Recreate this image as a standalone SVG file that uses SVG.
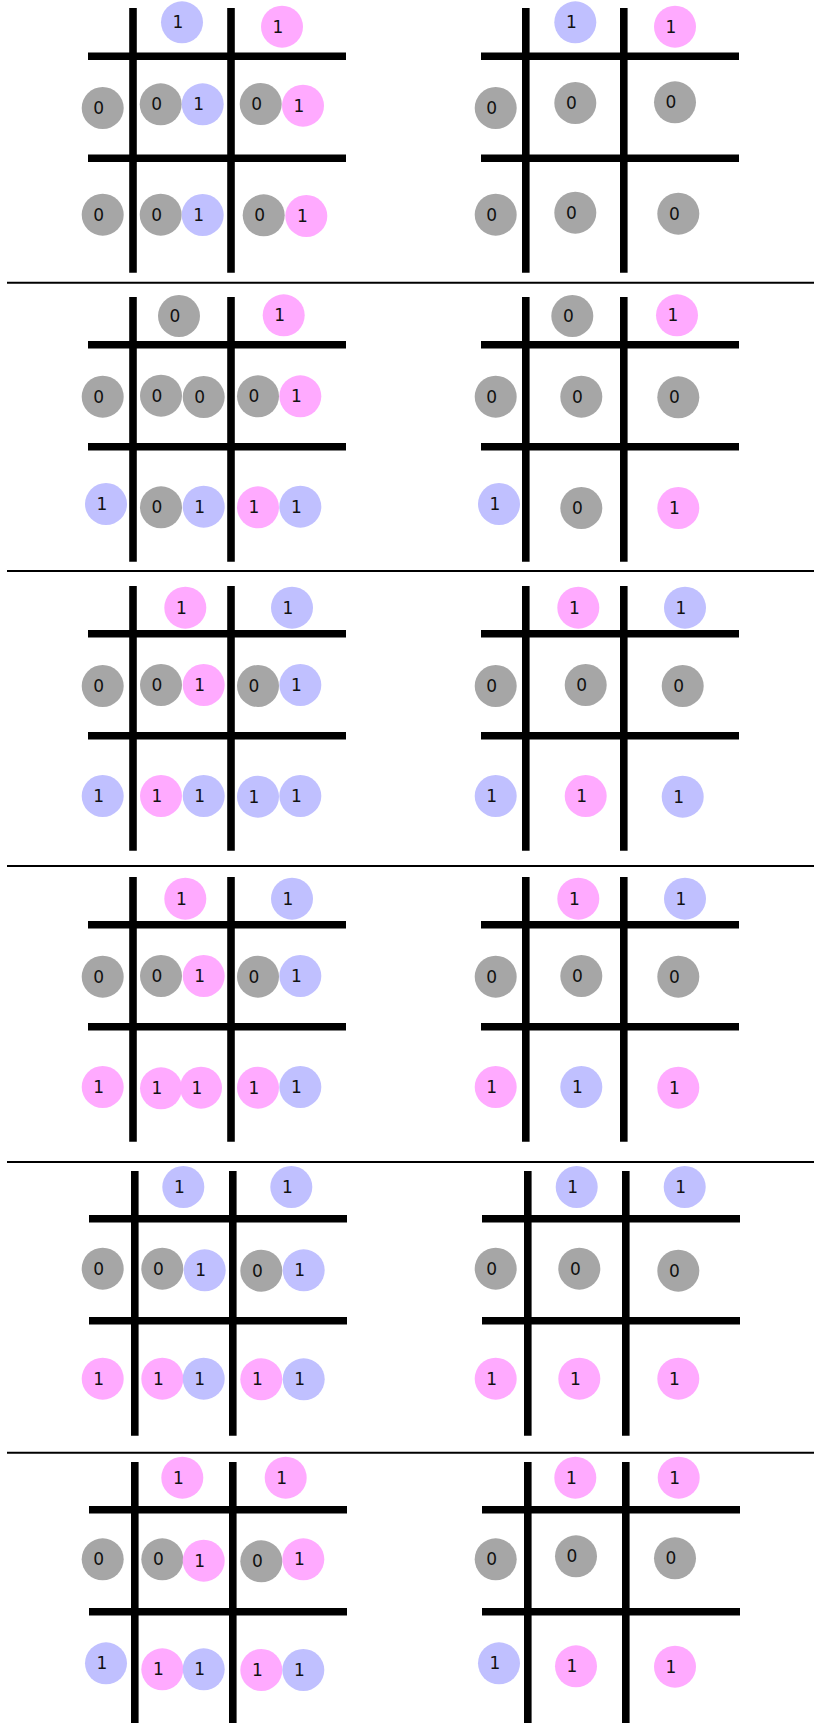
<svg xmlns="http://www.w3.org/2000/svg" width="814" height="1723" viewBox="0 0 814 1723">
<style>
.g circle{fill:#a6a6a6}
.b circle{fill:#c0c0ff}
.p circle{fill:#ffaaff}
text{font-family:"DejaVu Sans",sans-serif;font-size:17px;fill:#111;text-anchor:middle;dominant-baseline:central}
.ln line{stroke:#000;stroke-width:7.6}
.sep line{stroke:#000;stroke-width:2}
</style>
<rect width="814" height="1723" fill="#fff"/>
<g id="separators" class="sep">
<line x1="7" y1="282.7" x2="814" y2="282.7"/>
<line x1="7" y1="571" x2="814" y2="571"/>
<line x1="7" y1="866" x2="814" y2="866"/>
<line x1="7" y1="1162" x2="814" y2="1162"/>
<line x1="7" y1="1452.7" x2="814" y2="1452.7"/>
</g>
<g id="grids" class="ln">
<line x1="133" y1="8" x2="133" y2="272.7"/><line x1="231" y1="8" x2="231" y2="272.7"/><line x1="88" y1="56.2" x2="346" y2="56.2"/><line x1="88" y1="158.2" x2="346" y2="158.2"/>
<line x1="525.8" y1="8" x2="525.8" y2="272.7"/><line x1="623.8" y1="8" x2="623.8" y2="272.7"/><line x1="481" y1="56.2" x2="739" y2="56.2"/><line x1="481" y1="158.2" x2="739" y2="158.2"/>
<line x1="133" y1="297" x2="133" y2="561.7"/><line x1="231" y1="297" x2="231" y2="561.7"/><line x1="88" y1="344.8" x2="346" y2="344.8"/><line x1="88" y1="446.8" x2="346" y2="446.8"/>
<line x1="525.8" y1="297" x2="525.8" y2="561.7"/><line x1="623.8" y1="297" x2="623.8" y2="561.7"/><line x1="481" y1="344.8" x2="739" y2="344.8"/><line x1="481" y1="446.8" x2="739" y2="446.8"/>
<line x1="133" y1="586" x2="133" y2="850.7"/><line x1="231" y1="586" x2="231" y2="850.7"/><line x1="88" y1="633.8" x2="346" y2="633.8"/><line x1="88" y1="735.8" x2="346" y2="735.8"/>
<line x1="525.8" y1="586" x2="525.8" y2="850.7"/><line x1="623.8" y1="586" x2="623.8" y2="850.7"/><line x1="481" y1="633.8" x2="739" y2="633.8"/><line x1="481" y1="735.8" x2="739" y2="735.8"/>
<line x1="133" y1="877" x2="133" y2="1141.7"/><line x1="231" y1="877" x2="231" y2="1141.7"/><line x1="88" y1="924.8" x2="346" y2="924.8"/><line x1="88" y1="1026.8" x2="346" y2="1026.8"/>
<line x1="525.8" y1="877" x2="525.8" y2="1141.7"/><line x1="623.8" y1="877" x2="623.8" y2="1141.7"/><line x1="481" y1="924.8" x2="739" y2="924.8"/><line x1="481" y1="1026.8" x2="739" y2="1026.8"/>
<line x1="134.8" y1="1171" x2="134.8" y2="1435.7"/><line x1="232.8" y1="1171" x2="232.8" y2="1435.7"/><line x1="89" y1="1218.8" x2="347" y2="1218.8"/><line x1="89" y1="1320.8" x2="347" y2="1320.8"/>
<line x1="527.8" y1="1171" x2="527.8" y2="1435.7"/><line x1="625.8" y1="1171" x2="625.8" y2="1435.7"/><line x1="482" y1="1218.8" x2="740" y2="1218.8"/><line x1="482" y1="1320.8" x2="740" y2="1320.8"/>
<line x1="134.8" y1="1462" x2="134.8" y2="1723"/><line x1="232.8" y1="1462" x2="232.8" y2="1723"/><line x1="89" y1="1509.8" x2="347" y2="1509.8"/><line x1="89" y1="1611.8" x2="347" y2="1611.8"/>
<line x1="527.8" y1="1462" x2="527.8" y2="1723"/><line x1="625.8" y1="1462" x2="625.8" y2="1723"/><line x1="482" y1="1509.8" x2="740" y2="1509.8"/><line x1="482" y1="1611.8" x2="740" y2="1611.8"/>
</g>

<g id="panel1-left">
<g id="p1l-t1" class="b"><circle cx="182" cy="22.3" r="21"/><text x="178" y="22.3">1</text></g>
<g id="p1l-t2" class="p"><circle cx="282" cy="26.7" r="21"/><text x="278" y="26.7">1</text></g>
<g id="p1l-a0" class="g"><circle cx="102.7" cy="108" r="21"/><text x="98.7" y="108">0</text></g>
<g id="p1l-a1" class="g"><circle cx="160.7" cy="104.3" r="21"/><text x="156.7" y="104.3">0</text></g>
<g id="p1l-a2" class="b"><circle cx="202.7" cy="104.3" r="21"/><text x="198.7" y="104.3">1</text></g>
<g id="p1l-a3" class="g"><circle cx="260.7" cy="104" r="21"/><text x="256.7" y="104">0</text></g>
<g id="p1l-a4" class="p"><circle cx="303" cy="105.7" r="21"/><text x="299" y="105.7">1</text></g>
<g id="p1l-b0" class="g"><circle cx="102.7" cy="214.7" r="21"/><text x="98.7" y="214.7">0</text></g>
<g id="p1l-b1" class="g"><circle cx="160.7" cy="214.7" r="21"/><text x="156.7" y="214.7">0</text></g>
<g id="p1l-b2" class="b"><circle cx="202.7" cy="215" r="21"/><text x="198.7" y="215">1</text></g>
<g id="p1l-b3" class="g"><circle cx="263.7" cy="215.3" r="21"/><text x="259.7" y="215.3">0</text></g>
<g id="p1l-b4" class="p"><circle cx="306.3" cy="216" r="21"/><text x="302.3" y="216">1</text></g>
</g>
<g id="panel1-right">
<g id="p1r-t1" class="b"><circle cx="575.3" cy="22.3" r="21"/><text x="571.3" y="22.3">1</text></g>
<g id="p1r-t2" class="p"><circle cx="675" cy="26.7" r="21"/><text x="671" y="26.7">1</text></g>
<g id="p1r-a0" class="g"><circle cx="495.7" cy="108" r="21"/><text x="491.7" y="108">0</text></g>
<g id="p1r-a1" class="g"><circle cx="575.3" cy="103" r="21"/><text x="571.3" y="103">0</text></g>
<g id="p1r-a2" class="g"><circle cx="675" cy="102.3" r="21"/><text x="671" y="102.3">0</text></g>
<g id="p1r-b0" class="g"><circle cx="495.7" cy="214.7" r="21"/><text x="491.7" y="214.7">0</text></g>
<g id="p1r-b1" class="g"><circle cx="575.3" cy="212.7" r="21"/><text x="571.3" y="212.7">0</text></g>
<g id="p1r-b2" class="g"><circle cx="678.3" cy="213.7" r="21"/><text x="674.3" y="213.7">0</text></g>
</g>

<g id="panel2-left">
<g id="p2l-t1" class="g"><circle cx="179" cy="316" r="21"/><text x="175" y="316">0</text></g>
<g id="p2l-t2" class="p"><circle cx="283.7" cy="315.3" r="21"/><text x="279.7" y="315.3">1</text></g>
<g id="p2l-a0" class="g"><circle cx="102.7" cy="396.7" r="21"/><text x="98.7" y="396.7">0</text></g>
<g id="p2l-a1" class="g"><circle cx="161" cy="395.7" r="21"/><text x="157" y="395.7">0</text></g>
<g id="p2l-a2" class="g"><circle cx="203.7" cy="397" r="21"/><text x="199.7" y="397">0</text></g>
<g id="p2l-a3" class="g"><circle cx="258" cy="396.3" r="21"/><text x="254" y="396.3">0</text></g>
<g id="p2l-a4" class="p"><circle cx="300.3" cy="396.3" r="21"/><text x="296.3" y="396.3">1</text></g>
<g id="p2l-b0" class="b"><circle cx="106" cy="504" r="21"/><text x="102" y="504">1</text></g>
<g id="p2l-b1" class="g"><circle cx="161" cy="507.3" r="21"/><text x="157" y="507.3">0</text></g>
<g id="p2l-b2" class="b"><circle cx="203.7" cy="506.7" r="21"/><text x="199.7" y="506.7">1</text></g>
<g id="p2l-b3" class="p"><circle cx="258" cy="507.3" r="21"/><text x="254" y="507.3">1</text></g>
<g id="p2l-b4" class="b"><circle cx="300.3" cy="506.7" r="21"/><text x="296.3" y="506.7">1</text></g>
</g>
<g id="panel2-right">
<g id="p2r-t1" class="g"><circle cx="572.3" cy="316" r="21"/><text x="568.3" y="316">0</text></g>
<g id="p2r-t2" class="p"><circle cx="677" cy="315.3" r="21"/><text x="673" y="315.3">1</text></g>
<g id="p2r-a0" class="g"><circle cx="495.7" cy="396.7" r="21"/><text x="491.7" y="396.7">0</text></g>
<g id="p2r-a1" class="g"><circle cx="581.3" cy="396.7" r="21"/><text x="577.3" y="396.7">0</text></g>
<g id="p2r-a2" class="g"><circle cx="678.3" cy="397.3" r="21"/><text x="674.3" y="397.3">0</text></g>
<g id="p2r-b0" class="b"><circle cx="499" cy="504" r="21"/><text x="495" y="504">1</text></g>
<g id="p2r-b1" class="g"><circle cx="581.3" cy="508" r="21"/><text x="577.3" y="508">0</text></g>
<g id="p2r-b2" class="p"><circle cx="678.3" cy="508" r="21"/><text x="674.3" y="508">1</text></g>
</g>

<g id="panel3-left">
<g id="p3l-t1" class="p"><circle cx="185.3" cy="607.7" r="21"/><text x="181.3" y="607.7">1</text></g>
<g id="p3l-t2" class="b"><circle cx="292" cy="607.7" r="21"/><text x="288" y="607.7">1</text></g>
<g id="p3l-a0" class="g"><circle cx="102.7" cy="686" r="21"/><text x="98.7" y="686">0</text></g>
<g id="p3l-a1" class="g"><circle cx="161" cy="685" r="21"/><text x="157" y="685">0</text></g>
<g id="p3l-a2" class="p"><circle cx="203.7" cy="685" r="21"/><text x="199.7" y="685">1</text></g>
<g id="p3l-a3" class="g"><circle cx="258" cy="686" r="21"/><text x="254" y="686">0</text></g>
<g id="p3l-a4" class="b"><circle cx="300.3" cy="685" r="21"/><text x="296.3" y="685">1</text></g>
<g id="p3l-b0" class="b"><circle cx="102.7" cy="796" r="21"/><text x="98.7" y="796">1</text></g>
<g id="p3l-b1" class="p"><circle cx="161" cy="796" r="21"/><text x="157" y="796">1</text></g>
<g id="p3l-b2" class="b"><circle cx="203.7" cy="796" r="21"/><text x="199.7" y="796">1</text></g>
<g id="p3l-b3" class="b"><circle cx="258" cy="796.7" r="21"/><text x="254" y="796.7">1</text></g>
<g id="p3l-b4" class="b"><circle cx="300.3" cy="796" r="21"/><text x="296.3" y="796">1</text></g>
</g>
<g id="panel3-right">
<g id="p3r-t1" class="p"><circle cx="578.3" cy="607.7" r="21"/><text x="574.3" y="607.7">1</text></g>
<g id="p3r-t2" class="b"><circle cx="685" cy="607.7" r="21"/><text x="681" y="607.7">1</text></g>
<g id="p3r-a0" class="g"><circle cx="495.7" cy="686" r="21"/><text x="491.7" y="686">0</text></g>
<g id="p3r-a1" class="g"><circle cx="585.7" cy="685" r="21"/><text x="581.7" y="685">0</text></g>
<g id="p3r-a2" class="g"><circle cx="682.7" cy="686" r="21"/><text x="678.7" y="686">0</text></g>
<g id="p3r-b0" class="b"><circle cx="495.7" cy="796" r="21"/><text x="491.7" y="796">1</text></g>
<g id="p3r-b1" class="p"><circle cx="585.7" cy="796" r="21"/><text x="581.7" y="796">1</text></g>
<g id="p3r-b2" class="b"><circle cx="682.7" cy="796.7" r="21"/><text x="678.7" y="796.7">1</text></g>
</g>

<g id="panel4-left">
<g id="p4l-t1" class="p"><circle cx="185.3" cy="898.7" r="21"/><text x="181.3" y="898.7">1</text></g>
<g id="p4l-t2" class="b"><circle cx="292" cy="898.7" r="21"/><text x="288" y="898.7">1</text></g>
<g id="p4l-a0" class="g"><circle cx="102.7" cy="976.7" r="21"/><text x="98.7" y="976.7">0</text></g>
<g id="p4l-a1" class="g"><circle cx="161" cy="976" r="21"/><text x="157" y="976">0</text></g>
<g id="p4l-a2" class="p"><circle cx="203.7" cy="976" r="21"/><text x="199.7" y="976">1</text></g>
<g id="p4l-a3" class="g"><circle cx="258" cy="976.7" r="21"/><text x="254" y="976.7">0</text></g>
<g id="p4l-a4" class="b"><circle cx="300.3" cy="976" r="21"/><text x="296.3" y="976">1</text></g>
<g id="p4l-b0" class="p"><circle cx="102.7" cy="1087" r="21"/><text x="98.7" y="1087">1</text></g>
<g id="p4l-b1" class="p"><circle cx="161" cy="1088.3" r="21"/><text x="157" y="1088.3">1</text></g>
<g id="p4l-b2" class="p"><circle cx="201" cy="1087.7" r="21"/><text x="197" y="1087.7">1</text></g>
<g id="p4l-b3" class="p"><circle cx="258" cy="1087.7" r="21"/><text x="254" y="1087.7">1</text></g>
<g id="p4l-b4" class="b"><circle cx="300.3" cy="1087" r="21"/><text x="296.3" y="1087">1</text></g>
</g>
<g id="panel4-right">
<g id="p4r-t1" class="p"><circle cx="578.3" cy="898.7" r="21"/><text x="574.3" y="898.7">1</text></g>
<g id="p4r-t2" class="b"><circle cx="685" cy="898.7" r="21"/><text x="681" y="898.7">1</text></g>
<g id="p4r-a0" class="g"><circle cx="495.7" cy="976.7" r="21"/><text x="491.7" y="976.7">0</text></g>
<g id="p4r-a1" class="g"><circle cx="581.3" cy="976" r="21"/><text x="577.3" y="976">0</text></g>
<g id="p4r-a2" class="g"><circle cx="678.3" cy="976.7" r="21"/><text x="674.3" y="976.7">0</text></g>
<g id="p4r-b0" class="p"><circle cx="495.7" cy="1087" r="21"/><text x="491.7" y="1087">1</text></g>
<g id="p4r-b1" class="b"><circle cx="581.3" cy="1087" r="21"/><text x="577.3" y="1087">1</text></g>
<g id="p4r-b2" class="p"><circle cx="678.3" cy="1087.7" r="21"/><text x="674.3" y="1087.7">1</text></g>
</g>

<g id="panel5-left">
<g id="p5l-t1" class="b"><circle cx="183.3" cy="1187" r="21"/><text x="179.3" y="1187">1</text></g>
<g id="p5l-t2" class="b"><circle cx="291.3" cy="1187" r="21"/><text x="287.3" y="1187">1</text></g>
<g id="p5l-a0" class="g"><circle cx="102.7" cy="1268.7" r="21"/><text x="98.7" y="1268.7">0</text></g>
<g id="p5l-a1" class="g"><circle cx="162.3" cy="1268.7" r="21"/><text x="158.3" y="1268.7">0</text></g>
<g id="p5l-a2" class="b"><circle cx="204.7" cy="1270.3" r="21"/><text x="200.7" y="1270.3">1</text></g>
<g id="p5l-a3" class="g"><circle cx="261.3" cy="1270.7" r="21"/><text x="257.3" y="1270.7">0</text></g>
<g id="p5l-a4" class="b"><circle cx="303.7" cy="1270.3" r="21"/><text x="299.7" y="1270.3">1</text></g>
<g id="p5l-b0" class="p"><circle cx="102.7" cy="1378.7" r="21"/><text x="98.7" y="1378.7">1</text></g>
<g id="p5l-b1" class="p"><circle cx="162.3" cy="1378.7" r="21"/><text x="158.3" y="1378.7">1</text></g>
<g id="p5l-b2" class="b"><circle cx="203.7" cy="1378.7" r="21"/><text x="199.7" y="1378.7">1</text></g>
<g id="p5l-b3" class="p"><circle cx="261.3" cy="1379.3" r="21"/><text x="257.3" y="1379.3">1</text></g>
<g id="p5l-b4" class="b"><circle cx="303.7" cy="1379.3" r="21"/><text x="299.7" y="1379.3">1</text></g>
</g>
<g id="panel5-right">
<g id="p5r-t1" class="b"><circle cx="576.7" cy="1187" r="21"/><text x="572.7" y="1187">1</text></g>
<g id="p5r-t2" class="b"><circle cx="684.7" cy="1187" r="21"/><text x="680.7" y="1187">1</text></g>
<g id="p5r-a0" class="g"><circle cx="495.7" cy="1268.7" r="21"/><text x="491.7" y="1268.7">0</text></g>
<g id="p5r-a1" class="g"><circle cx="579.3" cy="1268.7" r="21"/><text x="575.3" y="1268.7">0</text></g>
<g id="p5r-a2" class="g"><circle cx="678.3" cy="1270.7" r="21"/><text x="674.3" y="1270.7">0</text></g>
<g id="p5r-b0" class="p"><circle cx="495.7" cy="1378.7" r="21"/><text x="491.7" y="1378.7">1</text></g>
<g id="p5r-b1" class="p"><circle cx="579.3" cy="1378.7" r="21"/><text x="575.3" y="1378.7">1</text></g>
<g id="p5r-b2" class="p"><circle cx="678.3" cy="1378.7" r="21"/><text x="674.3" y="1378.7">1</text></g>
</g>

<g id="panel6-left">
<g id="p6l-t1" class="p"><circle cx="182.3" cy="1477.7" r="21"/><text x="178.3" y="1477.7">1</text></g>
<g id="p6l-t2" class="p"><circle cx="285.7" cy="1477.7" r="21"/><text x="281.7" y="1477.7">1</text></g>
<g id="p6l-a0" class="g"><circle cx="102.7" cy="1559.3" r="21"/><text x="98.7" y="1559.3">0</text></g>
<g id="p6l-a1" class="g"><circle cx="162.3" cy="1559.3" r="21"/><text x="158.3" y="1559.3">0</text></g>
<g id="p6l-a2" class="p"><circle cx="203.7" cy="1560.7" r="21"/><text x="199.7" y="1560.7">1</text></g>
<g id="p6l-a3" class="g"><circle cx="261.3" cy="1561.3" r="21"/><text x="257.3" y="1561.3">0</text></g>
<g id="p6l-a4" class="p"><circle cx="303.3" cy="1559.3" r="21"/><text x="299.3" y="1559.3">1</text></g>
<g id="p6l-b0" class="b"><circle cx="106" cy="1663.3" r="21"/><text x="102" y="1663.3">1</text></g>
<g id="p6l-b1" class="p"><circle cx="162.3" cy="1669.3" r="21"/><text x="158.3" y="1669.3">1</text></g>
<g id="p6l-b2" class="b"><circle cx="203.7" cy="1669.3" r="21"/><text x="199.7" y="1669.3">1</text></g>
<g id="p6l-b3" class="p"><circle cx="261.3" cy="1670" r="21"/><text x="257.3" y="1670">1</text></g>
<g id="p6l-b4" class="b"><circle cx="303.3" cy="1670" r="21"/><text x="299.3" y="1670">1</text></g>
</g>
<g id="panel6-right">
<g id="p6r-t1" class="p"><circle cx="575.3" cy="1477.7" r="21"/><text x="571.3" y="1477.7">1</text></g>
<g id="p6r-t2" class="p"><circle cx="678.7" cy="1477.7" r="21"/><text x="674.7" y="1477.7">1</text></g>
<g id="p6r-a0" class="g"><circle cx="495.7" cy="1559.3" r="21"/><text x="491.7" y="1559.3">0</text></g>
<g id="p6r-a1" class="g"><circle cx="576" cy="1556.3" r="21"/><text x="572" y="1556.3">0</text></g>
<g id="p6r-a2" class="g"><circle cx="675" cy="1558.3" r="21"/><text x="671" y="1558.3">0</text></g>
<g id="p6r-b0" class="b"><circle cx="499" cy="1663.3" r="21"/><text x="495" y="1663.3">1</text></g>
<g id="p6r-b1" class="p"><circle cx="576" cy="1666.3" r="21"/><text x="572" y="1666.3">1</text></g>
<g id="p6r-b2" class="p"><circle cx="675" cy="1666.7" r="21"/><text x="671" y="1666.7">1</text></g>
</g>
</svg>
